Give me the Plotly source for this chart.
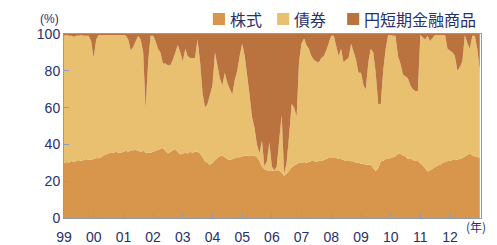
import plotly.graph_objects as go
import pandas as pd

# Monthly observations, Jan 1999 .. Jan 2013
months = pd.date_range("1999-01-01", periods=169, freq="MS")
year_ticks = pd.date_range("1999-01-01", periods=14, freq="YS")
year_labels = ["99", "00", "01", "02", "03", "04", "05", "06", "07", "08", "09", "10", "11", "12"]

# 株式 (%)
stocks = [
    30, 30.5, 30, 31, 30.5, 31, 31.5, 31, 31.5, 32, 31.5, 31.7,
    32, 32.6, 32.5, 33, 34, 34.5, 35, 35.7, 35.5, 36, 35.5, 35.5,
    36, 36.5, 36, 36.8, 36.8, 37, 36.5, 36, 36.5, 35.5, 35.5, 35.4,
    36, 36.5, 37, 37.5, 38, 36.5, 35, 36, 37, 37.5, 36, 34.5,
    35, 35.5, 35, 36, 35.5, 36, 36, 35, 33, 30.8, 30, 29,
    30, 31.5, 32.6, 33.5, 34, 33, 32, 31.5, 32, 32.5, 33, 33,
    33.5, 34, 34, 33.5, 34, 34, 33, 31, 28, 26.5, 26, 25.5,
    25.5, 26, 26, 26, 24.5, 23, 24, 26, 27.5, 28.5, 29.5, 30,
    30, 30.5, 30, 30.5, 31, 31, 30.5, 31, 31, 31.5, 32, 32.6,
    32.6, 32.6, 32.6, 32, 32, 31.5, 31, 31, 30.8, 30.8, 30, 30,
    29.5, 29.5, 29, 29, 29, 27, 25.5, 27, 30.8, 31, 32, 32,
    32.6, 33, 33.5, 35, 35, 34, 33.5, 32, 32.5, 31.5, 31, 31,
    30, 28.5, 27, 25.3, 26, 27, 28, 28.5, 29, 30, 30.5, 31,
    31, 31.5, 31.5, 31.6, 32, 32.6, 33.5, 34, 35, 34, 33.5, 33, 33,
]

# 円短期金融商品 (%)
short_term = [
    1, 0.5, 1, 1, 1.5, 1, 1, 0.5, 1, 1, 1, 4,
    13, 3, 0.5, 0.5, 0.5, 0.5, 0.5, 0.5, 0.5, 0.5, 0.5, 0.5,
    0.5, 1, 3, 9, 7, 4, 1, 3, 10, 41, 15, 1,
    1, 4, 8, 10, 16, 16, 17, 17, 14, 10, 6, 10,
    15, 8, 12, 13, 13, 13, 3, 15, 32, 40, 38, 33,
    28, 10, 18, 24, 28, 21, 26.5, 30, 33, 25, 20, 12,
    5.3, 12, 21, 33, 45, 51, 60, 65, 58, 72, 69, 59,
    72, 74, 72, 56, 44, 76, 70, 55, 38, 40, 45, 15,
    5, 2.5, 6, 8, 12, 14, 15, 15.5, 13, 12, 9, 5,
    1, 1, 7, 12, 8, 15.5, 14, 13, 5.3, 10, 14, 21,
    21, 28, 30, 15.5, 8, 10, 21, 38, 38, 20, 8, 0.5,
    0.5, 1, 1, 12, 16, 22, 23, 24, 28, 30, 31, 31,
    0.5, 2, 3, 1, 4, 2, 0.5, 0.5, 0.5, 0.5, 0.5, 8,
    9, 10, 12, 20, 18, 15, 0.5, 5, 8, 1, 1, 8, 20,
]

# 債券 = remainder of the 100% total
bonds = [max(0, 100 - s - t) for s, t in zip(stocks, short_term)]

names = ["株式", "債券", "円短期金融商品"]
colors = ["#D8954C", "#E9BF70", "#BA733E"]
series = [stocks, bonds, short_term]

navy = "#27306A"
axis_grey = "#8E9CB0"

fig = go.Figure()
for name, col, vals in zip(names, colors, series):
    fig.add_trace(go.Scatter(
        x=months, y=vals, name=name, stackgroup="one",
        mode="lines", line=dict(width=0, color=col), fillcolor=col,
        hoverinfo="skip", showlegend=False,
    ))

fig.update_layout(
    width=497, height=245,
    margin=dict(l=64, r=16, t=34, b=27, autoexpand=False),
    paper_bgcolor="white", plot_bgcolor="white",
    font=dict(family="Liberation Sans", color=navy),
)

fig.update_xaxes(
    range=[pd.Timestamp("1999-01-01"), pd.Timestamp("2013-01-16")],
    tickvals=year_ticks, ticktext=year_labels,
    ticks="inside", ticklen=5, tickcolor=axis_grey,
    showline=True, linecolor=axis_grey, linewidth=1, mirror=True,
    showgrid=False, zeroline=False, automargin=False,
    ticklabelstandoff=6,
    tickfont=dict(family="Liberation Sans Narrow, Liberation Sans", size=14, color=navy),
)
fig.update_yaxes(
    range=[0, 100], tickvals=[0, 20, 40, 60, 80, 100],
    ticks="inside", ticklen=5, tickcolor=axis_grey,
    showline=True, linecolor=axis_grey, linewidth=1, mirror=True,
    showgrid=False, zeroline=False, automargin=False,
    tickfont=dict(size=14, color=navy),
)

# Legend drawn as squares + labels above the plot (top right)
legend_sq_x = [0.357, 0.511, 0.679]
legend_tx_x = [0.393, 0.547, 0.714]
for name, col, sx, tx in zip(names, colors, legend_sq_x, legend_tx_x):
    fig.add_shape(type="rect", xref="paper", yref="paper",
                  x0=sx, x1=sx + 0.029, y0=1.049, y1=1.114,
                  fillcolor=col, line=dict(width=0))
    fig.add_annotation(text=name, xref="paper", yref="paper", x=tx, y=1.0815,
                       xanchor="left", yanchor="middle", showarrow=False,
                       font=dict(family="Noto Sans CJK JP", size=16, color=navy))

fig.add_annotation(text="(%)", xref="paper", yref="paper", x=-0.062, y=1.13,
                   showarrow=False, font=dict(size=12, color=navy))
fig.add_annotation(text="(年)", xref="paper", yref="paper", x=1.017, y=-0.105,
                   showarrow=False, font=dict(family="Noto Sans CJK JP", size=12, color=navy))

fig.write_html("out.html", config={"displayModeBar": False},
               post_script="document.body.style.margin='0px';document.body.style.overflow='hidden';")
